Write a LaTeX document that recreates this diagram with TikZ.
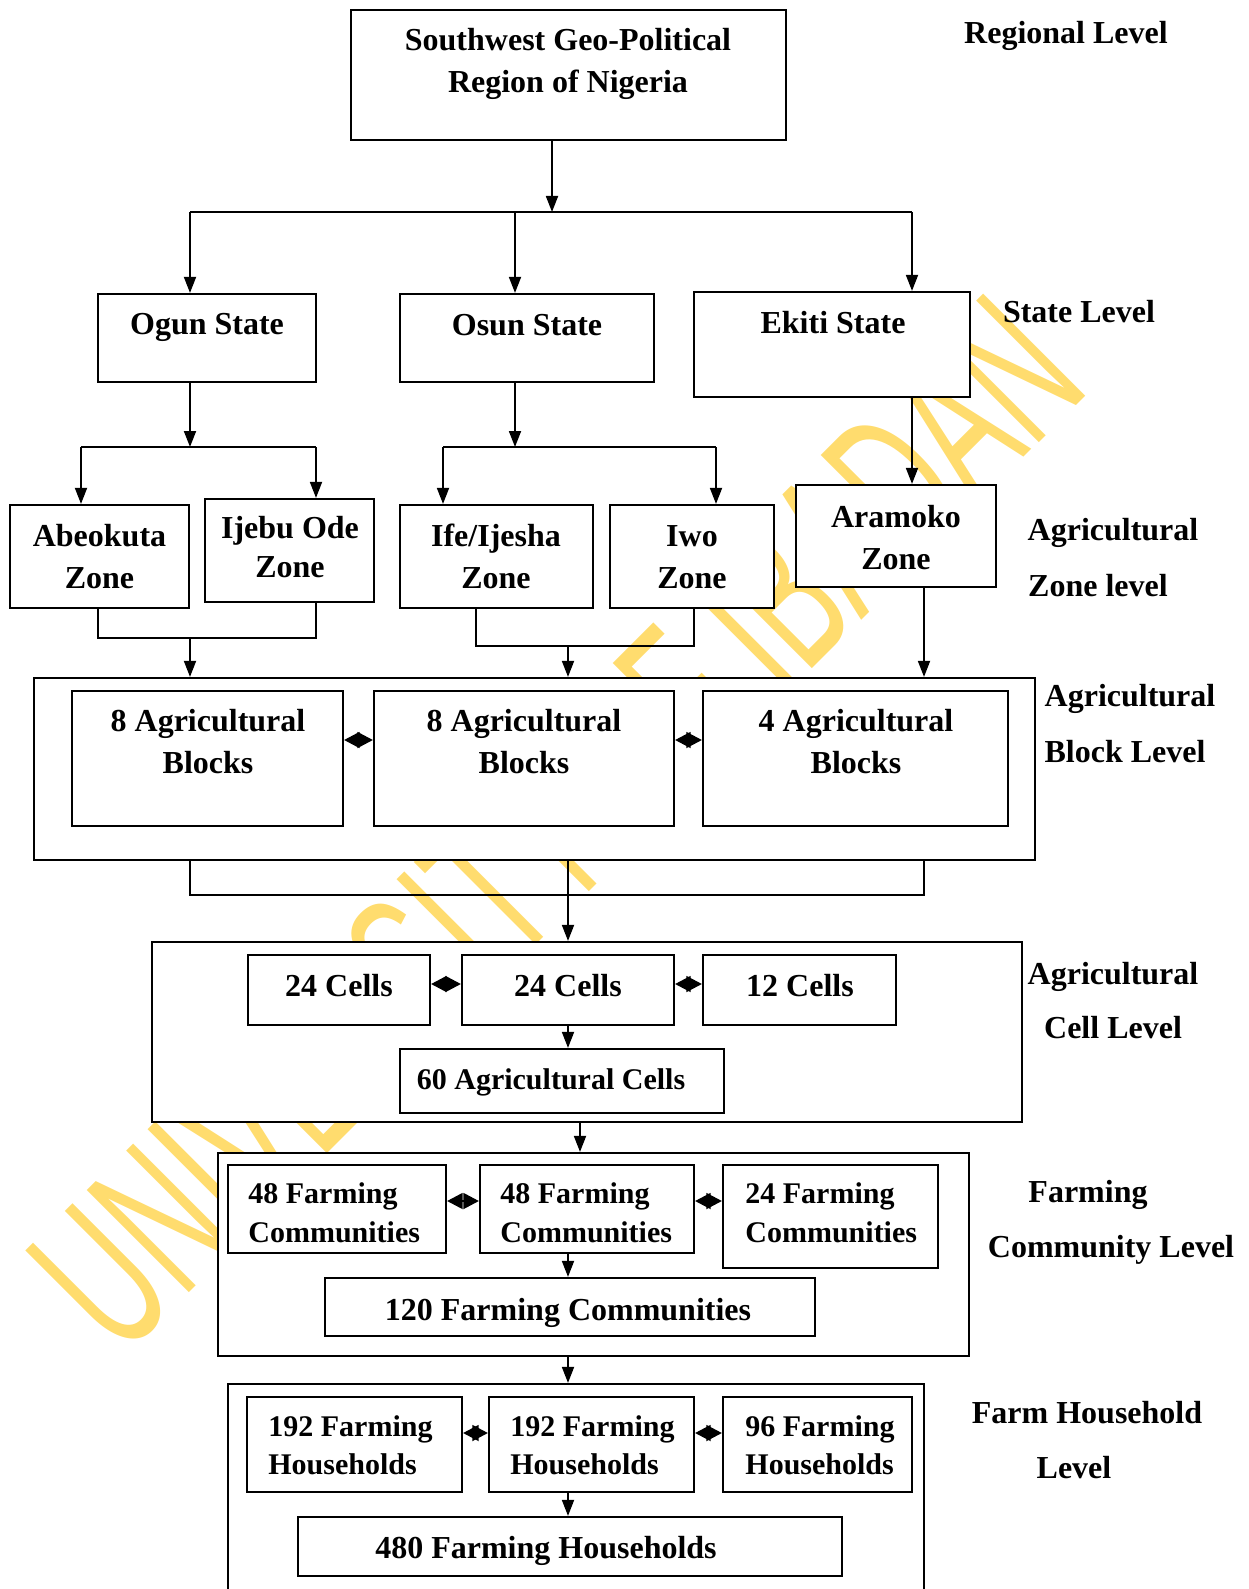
\documentclass[tikz,border=0pt]{standalone}
\usepackage{fontspec}
\usepackage{graphicx}
\setmainfont{Liberation Serif}
\newfontfamily\wmfont{Liberation Sans}
\usetikzlibrary{arrows.meta,fit}
\definecolor{wmyellow}{RGB}{255,220,110}
\tikzset{
 box/.style={draw, line width=1.1pt, fill=white, inner sep=0pt, rectangle},
 txt/.style={font=\bfseries\fontsize{16}{21}\selectfont, align=center, inner sep=0pt},
 txtn/.style={font=\bfseries\fontsize{16}{19.5}\selectfont, align=center, inner sep=0pt},
 txtm/.style={font=\bfseries\fontsize{15}{19}\selectfont, align=center, inner sep=0pt},
 txtsm/.style={font=\bfseries\fontsize{15}{19.25}\selectfont, align=left, inner sep=0pt, anchor=west},
 lab/.style={font=\bfseries\fontsize{16}{20}\selectfont, inner sep=0pt},
 conn/.style={line width=0.9pt},
 arr/.style={conn, -{Triangle[length=8pt,width=6pt]}},
 dia/.style={conn, {Triangle[length=7.8pt,width=8pt]}-{Triangle[length=7.8pt,width=8pt]}},
 wm/.style={font=\wmfont\fontsize{105}{105}\selectfont, text=wmyellow, inner sep=0pt},
}
\begin{document}
\begin{tikzpicture}[x=0.5pt,y=-0.5pt]
\useasboundingbox (0,0) rectangle (1248,1589);
\clip (0,0) rectangle (1248,1589);
% watermark
\node[wm, rotate=45] (wmark) at (556,823) {\scalebox{0.56}[1]{UNIVERSITY OF IBADAN}};

% regional
\node[box, fit={(351,10) (786,140)}] (top) {};
\node[txt] (topT) at (568,64) {Southwest Geo-Political\\Region of Nigeria};

% states
\node[box, fit={(98,294) (316,382)}] (ogun) {};
\node[txt] (ogunT) at (207,327) {Ogun State};
\node[box, fit={(400,294) (654,382)}] (osun) {};
\node[txt] (osunT) at (527,325) {Osun State};
\node[box, fit={(694,292) (970,397)}] (ekiti) {};
\node[txt] (ekitiT) at (833,323) {Ekiti State};

% zones
\node[box, fit={(10,505) (189,608)}] (abeo) {};
\node[txt] (abeoT) at (99.5,557) {Abeokuta\\Zone};
\node[box, fit={(205,499) (374,602)}] (ijebu) {};
\node[txtn] (ijebuT) at (290,547.5) {Ijebu Ode\\Zone};
\node[box, fit={(400,505) (593,608)}] (ife) {};
\node[txt] (ifeT) at (496,556.5) {Ife/Ijesha\\Zone};
\node[box, fit={(610,505) (774,608)}] (iwo) {};
\node[txt] (iwoT) at (692,557.5) {Iwo\\Zone};
\node[box, fit={(796,485) (996,587)}] (aram) {};
\node[txt] (aramT) at (896,537.5) {Aramoko\\Zone};

% blocks
\node[box, fit={(34,678) (1035,860)}] (blkbig) {};
\node[box, fit={(72,691) (343,826)}] (blk1) {};
\node[txt] (blk1T) at (208,742) {8 Agricultural\\Blocks};
\node[box, fit={(374,691) (674,826)}] (blk2) {};
\node[txt] (blk2T) at (524,742) {8 Agricultural\\Blocks};
\node[box, fit={(703,691) (1008,826)}] (blk3) {};
\node[txt] (blk3T) at (856,742) {4 Agricultural\\Blocks};

% cells
\node[box, fit={(152,942) (1022,1122)}] (cellbig) {};
\node[box, fit={(248,955) (430,1025)}] (c1) {};
\node[txt] (c1T) at (339,986) {24 Cells};
\node[box, fit={(462,955) (674,1025)}] (c2) {};
\node[txt] (c2T) at (568,986) {24 Cells};
\node[box, fit={(703,955) (896,1025)}] (c3) {};
\node[txt] (c3T) at (800,986) {12 Cells};
\node[box, fit={(400,1049) (724,1113)}] (c60) {};
\node[txtm] (c60T) at (551,1082) {60 Agricultural Cells};

% communities
\node[box, fit={(218,1153) (969,1356)}] (commbig) {};
\node[box, fit={(228,1165) (446,1253)}] (f1) {};
\node[txtsm] (f1T) at (248,1213) {48 Farming\\Communities};
\node[box, fit={(480,1165) (694,1253)}] (f2) {};
\node[txtsm] (f2T) at (500,1213) {48 Farming\\Communities};
\node[box, fit={(723,1165) (938,1268)}] (f3) {};
\node[txtsm] (f3T) at (745,1213) {24 Farming\\Communities};
\node[box, fit={(325,1278) (815,1336)}] (f120) {};
\node[txt] (f120T) at (568,1313) {120 Farming Communities};

% households
\node[box, fit={(228,1384) (924,1610)}] (hhbig) {};
\node[box, fit={(247,1397) (462,1492)}] (h1) {};
\node[txtsm] (h1T) at (268,1445.5) {192 Farming\\Households};
\node[box, fit={(489,1397) (694,1492)}] (h2) {};
\node[txtsm] (h2T) at (510,1445.5) {192 Farming\\Households};
\node[box, fit={(723,1397) (912,1492)}] (h3) {};
\node[txtsm] (h3T) at (745,1445.5) {96 Farming\\Households};
\node[box, fit={(298,1517) (842,1576)}] (h480) {};
\node[txt] (h480T) at (546,1551) {480 Farming Households};

% level labels
\node[lab] (l1) at (1066,36) {Regional Level};
\node[lab] (l2) at (1079,312) {State Level};
\node[lab] (l3a) at (1113,533) {Agricultural};
\node[lab] (l3b) at (1098,586) {Zone level};
\node[lab] (l4a) at (1130,699) {Agricultural};
\node[lab] (l4b) at (1125,752) {Block Level};
\node[lab] (l5a) at (1113,977) {Agricultural};
\node[lab] (l5b) at (1113,1028) {Cell Level};
\node[lab] (l6a) at (1088,1195) {Farming};
\node[lab] (l6b) at (1111,1250) {Community Level};
\node[lab] (l7a) at (1087,1413) {Farm Household};
\node[lab] (l7b) at (1074,1468) {Level};

% connectors: region -> states
\coordinate (j0) at (552,212);
\coordinate (b1L) at (190,212);
\coordinate (b1M) at (515,212);
\coordinate (b1R) at (912,212);
\draw[arr] (top.south -| j0) -- (j0);
\draw[conn] (b1L) -- (b1R);
\draw[arr] (b1L) -- (b1L |- ogun.north);
\draw[arr] (b1M) -- (b1M |- osun.north);
\draw[arr] (b1R) -- (b1R |- ekiti.north);

% states -> zones
\coordinate (b2L) at (81,447);
\coordinate (b2M) at (190,447);
\coordinate (b2R) at (316,447);
\draw[arr] (ogun.south -| b2M) -- (b2M);
\draw[conn] (b2L) -- (b2R);
\draw[arr] (b2L) -- (b2L |- abeo.north);
\draw[arr] (b2R) -- (b2R |- ijebu.north);

\coordinate (b3L) at (443,447);
\coordinate (b3M) at (515,447);
\coordinate (b3R) at (716,447);
\draw[arr] (osun.south -| b3M) -- (b3M);
\draw[conn] (b3L) -- (b3R);
\draw[arr] (b3L) -- (b3L |- ife.north);
\draw[arr] (b3R) -- (b3R |- iwo.north);

\draw[arr] (ekiti.south -| b1R) -- (b1R |- aram.north);

% zones -> blocks
\coordinate (j1L) at (98,638);
\coordinate (j1M) at (190,638);
\coordinate (j1R) at (316,638);
\draw[conn] (abeo.south -| j1L) -- (j1L) -- (j1R) -- (ijebu.south -| j1R);
\draw[arr] (j1M) -- (j1M |- blkbig.north);
\coordinate (j2L) at (476,646);
\coordinate (j2M) at (568,646);
\coordinate (j2R) at (694,646);
\draw[conn] (ife.south -| j2L) -- (j2L) -- (j2R) -- (iwo.south -| j2R);
\draw[arr] (j2M) -- (j2M |- blkbig.north);
\coordinate (j3) at (924,600);
\draw[arr] (aram.south -| j3) -- (j3 |- blkbig.north);

% block links
\coordinate (d1) at (0,740);
\draw[dia] (blk1.east |- d1) -- (blk2.west |- d1);
\draw[dia] (blk2.east |- d1) -- (blk3.west |- d1);

% blocks -> cells
\coordinate (k1L) at (190,895);
\coordinate (k1M) at (568,895);
\coordinate (k1R) at (924,895);
\draw[conn] (blkbig.south -| k1L) -- (k1L) -- (k1R) -- (blkbig.south -| k1R);
\draw[arr] (blkbig.south -| k1M) -- (k1M |- cellbig.north);

\coordinate (d2) at (0,984);
\draw[dia] (c1.east |- d2) -- (c2.west |- d2);
\draw[dia] (c2.east |- d2) -- (c3.west |- d2);
\draw[arr] (c2.south) -- (c2.south |- c60.north);

\coordinate (k2) at (580,0);
\draw[arr] (cellbig.south -| k2) -- (k2 |- commbig.north);

% communities
\coordinate (d3) at (0,1201);
\draw[dia] (f1.east |- d3) -- (f2.west |- d3);
\draw[dia] (f2.east |- d3) -- (f3.west |- d3);
\coordinate (k3) at (568,0);
\draw[arr] (f2.south -| k3) -- (k3 |- f120.north);
\draw[arr] (commbig.south -| k3) -- (k3 |- hhbig.north);

% households
\coordinate (d4) at (0,1433);
\draw[dia] (h1.east |- d4) -- (h2.west |- d4);
\draw[dia] (h2.east |- d4) -- (h3.west |- d4);
\draw[arr] (h2.south -| k3) -- (k3 |- h480.north);
\end{tikzpicture}
\end{document}
